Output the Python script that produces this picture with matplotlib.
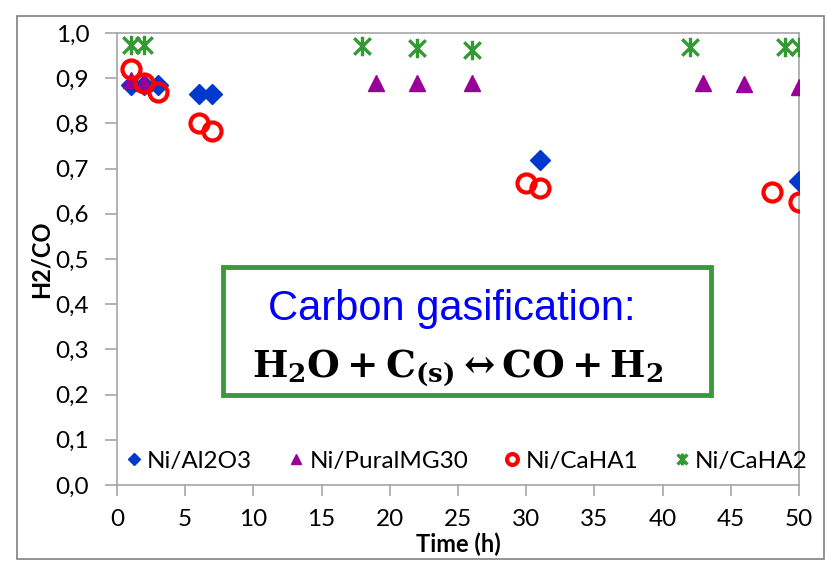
import matplotlib.pyplot as plt
from matplotlib.path import Path
from matplotlib.patches import Rectangle

# Datos
t_al2o3 = [1, 2, 3, 6, 7, 31, 50]
r_al2o3 = [0.885, 0.885, 0.885, 0.865, 0.865, 0.72, 0.672]

t_pural = [1, 2, 19, 22, 26, 43, 46, 50]
r_pural = [0.895, 0.89, 0.89, 0.89, 0.89, 0.89, 0.888, 0.881]

t_caha1 = [1, 2, 3, 6, 7, 30, 31, 48, 50]
r_caha1 = [0.92, 0.89, 0.87, 0.80, 0.784, 0.668, 0.657, 0.648, 0.627]

t_caha2 = [1, 2, 18, 22, 26, 42, 49, 50]
r_caha2 = [0.973, 0.973, 0.971, 0.967, 0.962, 0.969, 0.968, 0.968]

# marcador tipo estrella de Excel (x + linea vertical)
estrella = Path([(0, -1), (0, 1), (-0.85, -0.85), (0.85, 0.85), (-0.85, 0.85), (0.85, -0.85)],
                [Path.MOVETO, Path.LINETO, Path.MOVETO, Path.LINETO, Path.MOVETO, Path.LINETO])

plt.rcParams['font.family'] = ['Lato', 'DejaVu Sans']
plt.rcParams['mathtext.fontset'] = 'dejavuserif'
gris = '#a6a6a6'

fig = plt.figure(figsize=(8.27, 5.61), dpi=100)
ax = fig.add_axes([0.1415, 0.1355, 0.8245, 0.8057])

ax.plot(t_al2o3, r_al2o3, 'D', color='#0039cc', ms=10, ls='none', label='Ni/Al2O3', zorder=3)
ax.plot(t_pural, r_pural, '^', color='#990099', ms=11.5, ls='none', label='Ni/PuralMG30', zorder=3)
ax.plot(t_caha1, r_caha1, 'o', mfc='none', mec='#ff0000', mew=3, ms=13, ls='none',
        label='Ni/CaHA1', zorder=4)
ax.plot(t_caha2, r_caha2, marker=estrella, color='#339933', mew=2.4, ms=14, ls='none',
        label='Ni/CaHA2', zorder=3)

ax.set_xlim(0, 50)
ax.set_ylim(0, 1.0)
ax.set_xticks(range(0, 51, 5))
ax.set_yticks([i / 10 for i in range(11)])
ax.set_yticklabels([f'{i / 10:.1f}'.replace('.', ',') for i in range(11)])
ax.tick_params(axis='both', colors=gris, labelcolor='black', labelsize=17.5, length=8, width=1.2)
ax.tick_params(axis='x', pad=9)
ax.tick_params(axis='y', pad=11, length=9)
for s in ax.spines.values():
    s.set_color(gris)
    s.set_linewidth(1.2)

ax.set_ylabel('H2/CO', fontsize=17, fontweight='bold', labelpad=2)
ax.set_xlabel('Time (h)', fontsize=17, fontweight='bold', labelpad=2)

ax.legend(loc='lower center', bbox_to_anchor=(0.51, 0.0), ncol=4, frameon=False,
          fontsize=17.5, handletextpad=0.05, columnspacing=1.3, markerscale=0.6,
          handlelength=1.0, borderaxespad=0.15)

# recuadro con la reaccion
fig.patches.append(Rectangle((223 / 827, 1 - 395 / 561), 488 / 827, 128 / 561,
                             transform=fig.transFigure, fill=False, ec='#3a9a3a', lw=3.5))
fig.text(452 / 827, 1 - 309 / 561, 'Carbon gasification:', color='#0000ff', fontsize=30,
         family='Liberation Sans', ha='center', va='center')
fig.text(458 / 827, 1 - 368 / 561, r'$\mathbf{H_2O + C_{(s)} \leftrightarrow CO + H_2}$',
         fontsize=27, ha='center', va='center')

# borde de la figura
fig.patches.append(Rectangle((17 / 827, 1 - 559 / 561), 807 / 827, 543 / 561,
                             transform=fig.transFigure, fill=False, ec='#808080', lw=1.2))

fig.savefig('out.png', dpi=100)
